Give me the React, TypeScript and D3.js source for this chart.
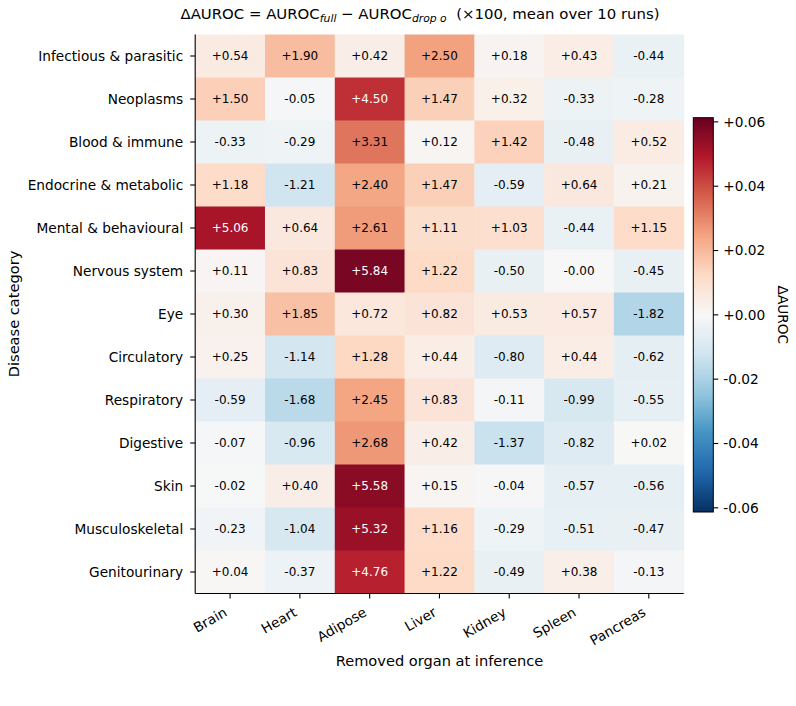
import React from "react";
import * as d3 from "d3";

// Organs removed at inference time (columns) and disease groups (rows)
const organs = ["Brain", "Heart", "Adipose", "Liver", "Kidney", "Spleen", "Pancreas"];
const categories = [
  "Infectious & parasitic",
  "Neoplasms",
  "Blood & immune",
  "Endocrine & metabolic",
  "Mental & behavioural",
  "Nervous system",
  "Eye",
  "Circulatory",
  "Respiratory",
  "Digestive",
  "Skin",
  "Musculoskeletal",
  "Genitourinary",
];

// ΔAUROC ×100, one row per category, columns in organ order
const infectious = [0.54, 1.9, 0.42, 2.5, 0.18, 0.43, -0.44];
const neoplasms = [1.5, -0.05, 4.5, 1.47, 0.32, -0.33, -0.28];
const blood = [-0.33, -0.29, 3.31, 0.12, 1.42, -0.48, 0.52];
const endocrine = [1.18, -1.21, 2.4, 1.47, -0.59, 0.64, 0.21];
const mental = [5.06, 0.64, 2.61, 1.11, 1.03, -0.44, 1.15];
const nervous = [0.11, 0.83, 5.84, 1.22, -0.5, -0.001, -0.45];
const eye = [0.3, 1.85, 0.72, 0.82, 0.53, 0.57, -1.82];
const circulatory = [0.25, -1.14, 1.28, 0.44, -0.8, 0.44, -0.62];
const respiratory = [-0.59, -1.68, 2.45, 0.83, -0.11, -0.99, -0.55];
const digestive = [-0.07, -0.96, 2.68, 0.42, -1.37, -0.82, 0.02];
const skin = [-0.02, 0.4, 5.58, 0.15, -0.04, -0.57, -0.56];
const musculoskeletal = [-0.23, -1.04, 5.32, 1.16, -0.29, -0.51, -0.47];
const genitourinary = [0.04, -0.37, 4.76, 1.22, -0.49, 0.38, -0.13];

const rows = [
  infectious, neoplasms, blood, endocrine, mental, nervous, eye,
  circulatory, respiratory, digestive, skin, musculoskeletal, genitourinary,
];

const colorbarTicks = [-0.06, -0.04, -0.02, 0, 0.02, 0.04, 0.06];

// RdBu_r control colours (blue -> white -> red)
const rdbu = [
  "#053061", "#2166ac", "#4393c3", "#92c5de", "#d1e5f0", "#f7f7f7",
  "#fddbc7", "#f4a582", "#d6604d", "#b2182b", "#67001f",
];

const FONT = "DejaVu Sans, sans-serif";
const W = 796;
const H = 706;
const left = 195.2;
const right = 683.7;
const top = 34.5;
const bottom = 593.5;
const vmax = 0.0613;

const fmt = (v: number) => (v >= 0 ? "+" : "") + v.toFixed(2);

export default function App() {
  const x = d3.scaleBand().domain(organs).range([left, right]);
  const y = d3.scaleBand().domain(categories).range([top, bottom]);

  const color = d3
    .scaleLinear<string>()
    .domain(d3.range(rdbu.length).map((i) => -vmax + (2 * vmax * i) / (rdbu.length - 1)))
    .range(rdbu)
    .interpolate(d3.interpolateRgb)
    .clamp(true);

  const cb = { x0: 693.3, x1: 713.3, y0: 117.7, y1: 512 };
  const cbScale = d3.scaleLinear().domain([-vmax, vmax]).range([cb.y1, cb.y0]);
  const gradStops = d3.range(0, 1.0001, 0.05);

  return (
    <svg width={W} height={H} style={{ display: "block", position: "absolute", left: 0, top: 0 }}>
      <rect width={W} height={H} fill="#ffffff" />
      <defs>
        <linearGradient id="cbar" x1="0" y1="1" x2="0" y2="0">
          {gradStops.map((t) => (
            <stop key={t} offset={t} stopColor={color(-vmax + 2 * vmax * t)} />
          ))}
        </linearGradient>
      </defs>

      <text x={420} y={19} textAnchor="middle" fontFamily={FONT} fontSize={14.9} fill="#000">
        ΔAUROC = AUROC
        <tspan fontStyle="italic" fontSize={10.8} dy={3}>full</tspan>
        <tspan dy={-3}> − AUROC</tspan>
        <tspan fontStyle="italic" fontSize={10.8} dy={3}>drop o</tspan>
        <tspan dy={-3} xmlSpace="preserve">{"  (×100, mean over 10 runs)"}</tspan>
      </text>

      {rows.map((vals, r) =>
        vals.map((v, c) => (
          <g key={`${r}-${c}`}>
            <rect
              x={x(organs[c])}
              y={y(categories[r])}
              width={x.bandwidth() + 0.5}
              height={y.bandwidth() + 0.5}
              fill={color(v / 100)}
            />
            <text
              x={(x(organs[c]) as number) + x.bandwidth() / 2}
              y={(y(categories[r]) as number) + y.bandwidth() / 2}
              dy="0.36em"
              textAnchor="middle"
              fontFamily={FONT}
              fontSize={12}
              fill={Math.abs(v) >= 4 ? "#ffffff" : "#000000"}
            >
              {fmt(v)}
            </text>
          </g>
        ))
      )}

      {/* left and bottom spines */}
      <line x1={left} x2={left} y1={top} y2={bottom} stroke="#000" strokeWidth={1.1} />
      <line x1={left} x2={right} y1={bottom} y2={bottom} stroke="#000" strokeWidth={1.1} />

      {categories.map((cat) => {
        const cy = (y(cat) as number) + y.bandwidth() / 2;
        return (
          <g key={cat}>
            <line x1={left - 5} x2={left} y1={cy} y2={cy} stroke="#000" strokeWidth={1.1} />
            <text x={left - 12} y={cy} dy="0.36em" textAnchor="end" fontFamily={FONT} fontSize={13.7} fill="#000">
              {cat}
            </text>
          </g>
        );
      })}

      {organs.map((o) => {
        const cx = (x(o) as number) + x.bandwidth() / 2;
        return (
          <g key={o}>
            <line x1={cx} x2={cx} y1={bottom} y2={bottom + 5} stroke="#000" strokeWidth={1.1} />
            <text
              transform={`translate(${cx - 7},${bottom + 13}) rotate(-30)`}
              dy="0.72em"
              textAnchor="end"
              fontFamily={FONT}
              fontSize={13.7}
              fill="#000"
            >
              {o}
            </text>
          </g>
        );
      })}

      <text x={(left + right) / 2} y={666} textAnchor="middle" fontFamily={FONT} fontSize={14.6} fill="#000">
        Removed organ at inference
      </text>
      <text
        transform={`translate(19,${(top + bottom) / 2}) rotate(-90)`}
        textAnchor="middle"
        fontFamily={FONT}
        fontSize={14.6}
        fill="#000"
      >
        Disease category
      </text>

      {/* colorbar */}
      <rect x={cb.x0} y={cb.y0} width={cb.x1 - cb.x0} height={cb.y1 - cb.y0} fill="url(#cbar)" stroke="#000" strokeWidth={1} />
      {colorbarTicks.map((t) => (
        <g key={t}>
          <line x1={cb.x1} x2={cb.x1 + 5} y1={cbScale(t)} y2={cbScale(t)} stroke="#000" strokeWidth={1.1} />
          <text x={cb.x1 + 10} y={cbScale(t)} dy="0.36em" fontFamily={FONT} fontSize={13.7} fill="#000">
            {fmt(t)}
          </text>
        </g>
      ))}
      <text
        transform={`translate(778,${(cb.y0 + cb.y1) / 2}) rotate(90)`}
        textAnchor="middle"
        fontFamily={FONT}
        fontSize={13.7}
        fill="#000"
      >
        ΔAUROC
      </text>
    </svg>
  );
}
